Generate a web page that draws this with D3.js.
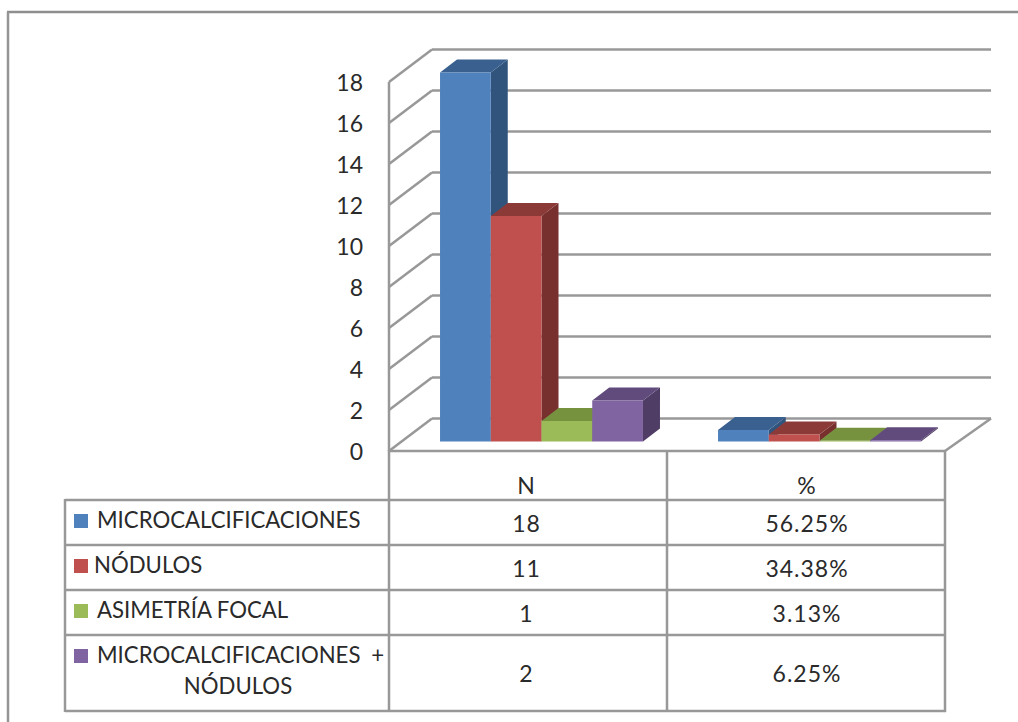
<!DOCTYPE html>
<html>
<head>
<meta charset="utf-8">
<script src="https://cdn.jsdelivr.net/npm/d3@7"></script>
<style>
  html, body { margin: 0; padding: 0; background: #fff; }
  svg { display: block; }
  text { font-family: Lato, "Open Sans", sans-serif; fill: #2a2a2a; }
</style>
</head>
<body>
<svg id="chart" width="1018" height="722"></svg>
<script>
// Chart data
const categories = ["N", "%"];
const seriesNames = ["MICROCALCIFICACIONES", "NÓDULOS", "ASIMETRÍA FOCAL", "MICROCALCIFICACIONES +|NÓDULOS"];
const countValues = [18, 11, 1, 2];
const percentValues = [0.5625, 0.3438, 0.0313, 0.0625];
const percentLabels = ["56.25%", "34.38%", "3.13%", "6.25%"];
const yTicks = [0, 2, 4, 6, 8, 10, 12, 14, 16, 18];
const seriesColors = [
  { front: "#4f81bd", side: "#31547d", top: "#3a6090" },
  { front: "#c0504d", side: "#77302e", top: "#8c3a38" },
  { front: "#9bbb59", side: "#5f7536", top: "#76923f" },
  { front: "#8064a2", side: "#4f3d66", top: "#614b7c" }
];

const GRID = "#989898";
const LINE_W = 2.5;
const svg = d3.select("#chart");

// Plot geometry: front plane of the floor, wall depth and bar depth
const plotLeft = 389, plotRight = 945;
const wallDx = 43, wallDy = -32.5;
const barDx = 17, barDy = -13;
const barLift = 9.5;
const barShiftX = 13.5;

const y = d3.scaleLinear().domain([0, 18]).range([451, 82]);
const xBand = d3.scaleBand().domain(categories).range([plotLeft, plotRight])
  .paddingInner(0.27).paddingOuter(0.135);
const xBar = d3.scaleBand().domain(d3.range(seriesNames.length)).range([0, xBand.bandwidth()]);

const line = (g, x1, y1, x2, y2, w = LINE_W, c = GRID) =>
  g.append("line").attr("x1", x1).attr("y1", y1).attr("x2", x2).attr("y2", y2)
    .attr("stroke", c).attr("stroke-width", w);

// Outer frame, open to the right and bottom edges
const frame = svg.append("g");
line(frame, 7, 12, 1018, 12, 2.5, "#8e8e8e");
line(frame, 8, 12, 8, 722, 2.5, "#959595");

// Gridlines on the side and back walls
const wall = svg.append("g");
yTicks.forEach(t => {
  line(wall, plotLeft, y(t), plotLeft + wallDx, y(t) + wallDy);
  line(wall, plotLeft + wallDx, y(t) + wallDy, 991, y(t) + wallDy);
});
line(wall, plotLeft, y(18), plotLeft, y(0));
line(wall, plotRight, y(0), 991, y(0) + wallDy);

// Value axis labels
const axis = d3.axisLeft(y).tickValues(yTicks).tickSize(0).tickPadding(0);
svg.append("g").attr("transform", "translate(363,0)").call(axis)
  .call(g => g.select(".domain").remove())
  .selectAll("text")
  .attr("x", 0).attr("dy", "0.36em")
  .style("font-size", "23px").style("font-family", "Lato, sans-serif").style("fill", "#2a2a2a");

// Extruded bars, painted left to right so each hides the previous side face
const drawBar = (g, x0, v, c) => {
  const w = xBar.bandwidth();
  const yB = y(0) - barLift, yT = y(v) - barLift;
  const pts = a => a.map(p => p.join(",")).join(" ");
  g.append("polygon").attr("fill", c.side)
    .attr("points", pts([[x0 + w, yT], [x0 + w + barDx, yT + barDy], [x0 + w + barDx, yB + barDy], [x0 + w, yB]]));
  g.append("polygon").attr("fill", c.top)
    .attr("points", pts([[x0, yT], [x0 + barDx, yT + barDy], [x0 + w + barDx, yT + barDy], [x0 + w, yT]]));
  g.append("rect").attr("fill", c.front)
    .attr("x", x0).attr("y", yT).attr("width", w).attr("height", yB - yT);
};
const bars = svg.append("g");
[countValues, percentValues].forEach((vals, i) => {
  vals.forEach((v, s) => {
    drawBar(bars, xBand(categories[i]) + barShiftX + xBar(s), v, seriesColors[s]);
  });
});

// Data table beneath the plot
const tableLeft = 65, tableBottom = 711;
const headerBottom = 500;
const rowBottoms = [545, 590, 635, tableBottom];
const table = svg.append("g");
line(table, plotLeft, y(0), plotRight, y(0));
line(table, tableLeft, headerBottom, plotRight, headerBottom);
rowBottoms.forEach(b => line(table, tableLeft, b, plotRight + 1, b));
line(table, tableLeft, headerBottom - 1, tableLeft, tableBottom + 1);
[plotLeft, xBand.step() + plotLeft, plotRight].forEach(x => line(table, x, y(0) - 1, x, tableBottom + 1));

const colCenter = c => xBand(c) + xBand.bandwidth() / 2;
const cell = (x, yy, s) => svg.append("text").attr("x", x).attr("y", yy)
  .attr("text-anchor", "middle").style("font-size", "23px").style("letter-spacing", "1px").text(s);

categories.forEach(c => cell(colCenter(c) + (c === "N" ? -1.5 : 1), 494, c));

const rowTops = [headerBottom, ...rowBottoms.slice(0, -1)];
seriesNames.forEach((name, s) => {
  const top = rowTops[s], bottom = rowBottoms[s];
  const mid = (top + bottom) / 2;
  const parts = name.split("|");
  const two = parts.length > 1;
  svg.append("rect").attr("x", 74).attr("y", top + 14).attr("width", 14).attr("height", 14)
    .attr("fill", seriesColors[s].front);
  svg.append("text").attr("x", s === 1 ? 94 : 97).attr("y", top + 28)
    .style("font-size", "22.2px").style("word-spacing", two ? "5px" : "0").text(parts[0]);
  if (two) {
    svg.append("text").attr("x", 238).attr("y", top + 59)
      .attr("text-anchor", "middle").style("font-size", "22.2px").text(parts[1]);
  }
  cell(colCenter("N") - 1.5, mid + 9, countValues[s]);
  cell(colCenter("%") + 1, mid + 9, percentLabels[s]);
});
</script>
</body>
</html>
